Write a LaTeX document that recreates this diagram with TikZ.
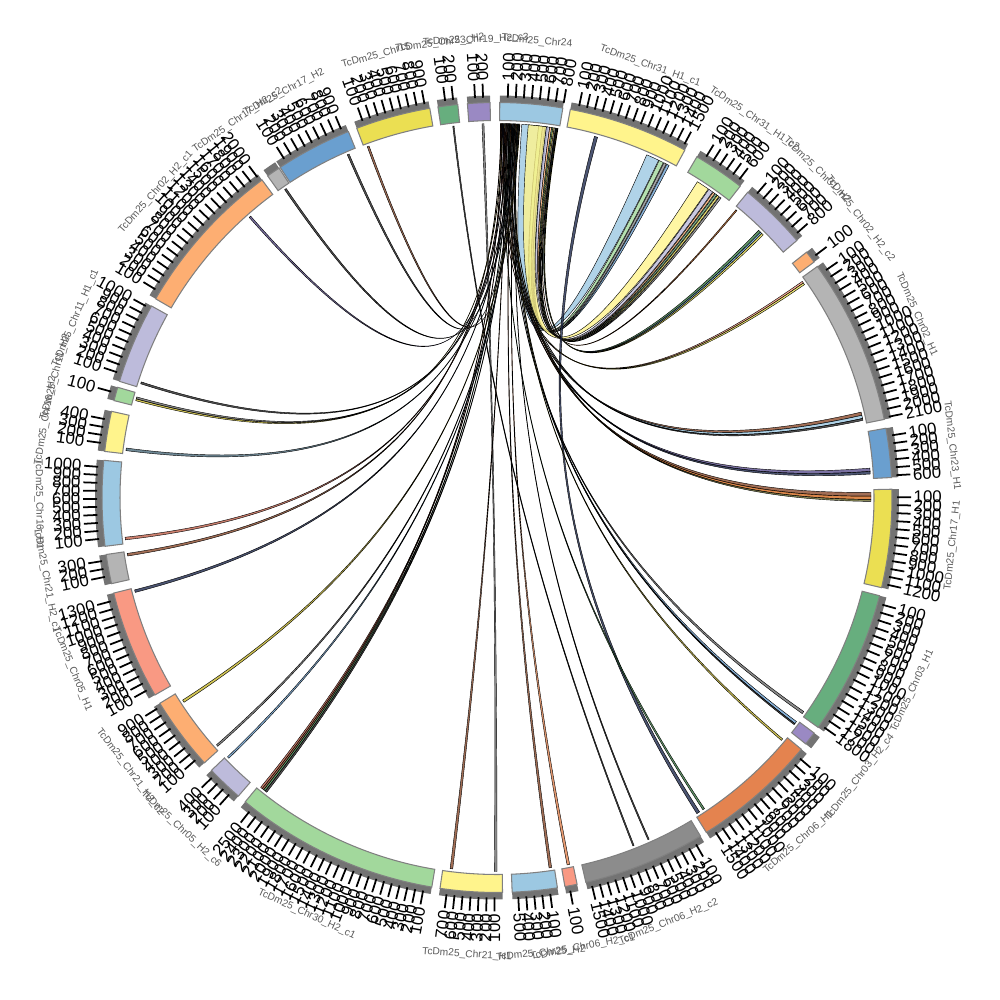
\documentclass[tikz,border=0pt]{standalone}
\usepackage{fontspec}
\setmainfont{Liberation Sans}
\usetikzlibrary{calc}

\definecolor{segblue}{HTML}{9CC8E2}
\definecolor{segyel}{HTML}{FFF48C}
\definecolor{seggrn}{HTML}{A2D89C}
\definecolor{seglav}{HTML}{BDBBDB}
\definecolor{segora}{HTML}{FDAE72}
\definecolor{seggry}{HTML}{B4B4B4}
\definecolor{segstb}{HTML}{6A9FCF}
\definecolor{segylw}{HTML}{EBDF52}
\definecolor{segdgn}{HTML}{67AE7E}
\definecolor{segpur}{HTML}{9A89C3}
\definecolor{segdor}{HTML}{E4834F}
\definecolor{segdgy}{HTML}{8C8C8C}
\definecolor{segsal}{HTML}{F99983}
\definecolor{lnkbrn}{HTML}{8B4A2B}
\definecolor{lnkred}{HTML}{C0604A}
\definecolor{lnkorg}{HTML}{D2691E}
\definecolor{lnkyel}{HTML}{C8B82A}
\definecolor{lnkolv}{HTML}{6B6B2F}
\definecolor{lnkgrn}{HTML}{3A7D44}
\definecolor{lnknavy}{HTML}{1F2A4F}
\definecolor{lnkslate}{HTML}{4A6A7A}
\definecolor{lnkpur}{HTML}{5A4E8C}
\definecolor{lnkgry}{HTML}{6E6E6E}
\definecolor{lnkdark}{HTML}{2A2A2A}

\def\rin{3.77}
\def\rout{3.95}
\def\rband{4.02}
\def\rlink{3.74}
\def\rctrl{1.1}

\tikzset{
  seg/.style={draw=black!50, line width=0.3pt},
  band/.style={fill=black!55},
  tick/.style={line width=0.5pt},
  ticklabel/.style={font=\fontsize{4.8}{5}\selectfont, inner sep=0pt},
  chrname/.style={font=\fontsize{2.9}{3}\selectfont, text=black!65, inner sep=0pt},
  link/.style={draw=black, line width=0.12pt, fill opacity=0.8},
}

\newcommand{\chord}[5]{%
  \filldraw[link, fill=#5] (#1:\rlink) arc[start angle=#1, end angle=#2, radius=\rlink]
    .. controls (#2:\rctrl) and (#3:\rctrl) .. (#3:\rlink)
    arc[start angle=#3, end angle=#4, radius=\rlink]
    .. controls (#4:\rctrl) and (#1:\rctrl) .. cycle;}

\begin{document}
\begin{tikzpicture}
\useasboundingbox (-4.97,-5.025) rectangle (5.03,4.975);

% ribbons near the top
\foreach \a/\b/\c/\d/\col in {
  86.2/83.6/66.4/64.4/segblue, 83.6/83.0/64.3/63.6/seggrn,
  83.0/82.6/63.5/63.1/segdgy, 82.6/82.2/63.0/62.6/segstb,
  85.2/82.4/57.6/55.6/segyel, 82.4/81.9/55.5/54.8/seglav,
  81.9/81.6/54.7/54.4/segora, 81.6/81.4/54.3/54.0/segdgn,
  81.4/81.2/53.9/53.6/segylw, 81.2/81.0/53.5/53.2/segdgy,
  81.0/80.9/50.3/50.1/lnkorg, 80.9/80.8/45.6/45.2/lnkgrn,
  80.8/80.7/45.2/44.9/segstb, 80.7/80.6/44.9/44.6/segylw,
  74.9/74.4/-57.2/-57.7/lnknavy,
  96.8/96.6/-68.5/-68.7/lnkdark, 92.3/92.0/-90.0/-90.4/lnkgry}
  {\chord{\a}{\b}{\c}{\d}{\col}}

% thin links from Chr24
\foreach \c/\d/\col [count=\j] in {
  35.3/35.0/segsal, -171.0/-171.4/lnkbrn, 13.2/12.7/lnkbrn,
  -128.6/-128.9/lnkbrn, 165.0/164.7/lnkyel, 4.5/4.0/lnkpur,
  -56.3/-56.6/lnkgrn, 131.5/131.2/lnkpur, 35.0/34.7/segylw,
  -173.5/-173.9/lnkred, 12.7/12.2/segblue, -128.9/-129.2/lnkred,
  0.8/0.2/lnkbrn, -96.8/-97.2/lnkbrn, 164.7/164.4/lnkgry,
  4.0/3.6/lnknavy, -34.9/-35.3/lnkgry, 124.6/124.3/lnkdark,
  12.2/11.9/lnkdark, -128.3/-128.6/lnkgrn, 0.2/-0.3/lnkorg,
  -81.6/-82.0/lnkbrn, 162.3/162.0/lnkdark, -36.8/-37.2/segstb,
  -165.3/-165.7/lnknavy, -0.3/-0.6/lnkolv, 113.6/113.3/lnkdark,
  -128.0/-128.3/lnkdark, -37.2/-37.4/lnkdark, -78.8/-79.2/segdor,
  172.8/172.4/lnkslate, -40.2/-40.5/lnkyel, 110.3/110.0/lnkbrn,
  -66.0/-66.2/lnkdark, -135.8/-136.1/segstb, -138.3/-138.6/lnkgry,
  -146.8/-147.2/lnkyel}
{
  \pgfmathsetmacro\a{89.5-0.082*(\j-1)}
  \pgfmathsetmacro\b{\a-0.07}
  \chord{\a}{\b}{\c}{\d}{\col}
}

% chromosomes, ticks and names
\foreach \s/\e/\col/\nt/\nm [count=\i] in {
  89.6/80.4/segblue/8/TcDm25\_Chr24,
  79.3/61.6/segyel/15/TcDm25\_Chr31\_H1\_c1,
  59.6/52.0/seggrn/6/TcDm25\_Chr31\_H1\_c2,
  50.6/40.6/seglav/8/TcDm25\_Chr31\_H2,
  38.4/36.6/segora/1/TcDm25\_Chr02\_H2\_c2,
  35.8/11.4/seggry/21/TcDm25\_Chr02\_H1,
  10.1/2.9/segstb/6/TcDm25\_Chr23\_H1,
  1.2/-13.2/segylw/12/TcDm25\_Chr17\_H1,
  -14.4/-35.6/segdgn/18/TcDm25\_Chr03\_H1,
  -36.6/-38.6/segpur/0/TcDm25\_Chr03\_H2\_c4,
  -39.6/-58.0/segdor/15/TcDm25\_Chr06\_H1,
  -59.0/-77.0/segdgy/15/TcDm25\_Chr06\_H2\_c2,
  -78.3/-80.1/segsal/1/TcDm25\_Chr06\_H2\_c1,
  -81.2/-87.8/segblue/5/TcDm25\_Chr25\_H2,
  -89.2/-98.3/segyel/7/TcDm25\_Chr21\_H1,
  -99.5/-129.6/seggrn/25/TcDm25\_Chr30\_H2\_c1,
  -130.9/-136.3/seglav/4/TcDm25\_Chr05\_H2\_c6,
  -137.8/-148.6/segora/9/TcDm25\_Chr21\_H2\_c2,
  -150.0/-166.0/segsal/13/TcDm25\_Chr05\_H1,
  -167.4/-171.7/seggry/3/TcDm25\_Chr21\_H2\_c1,
  -172.9/-185.4/segblue/10/TcDm25\_Chr16\_H1,
  -186.7/-192.6/segyel/4/TcDm25\_Chr16\_H2,
  -194.2/-196.2/seggrn/1/TcDm25\_Chr11\_H2,
  -197.1/-209.0/seglav/10/TcDm25\_Chr11\_H1\_c1,
  -210.2/-233.5/segora/20/TcDm25\_Chr02\_H2\_c1,
  -234.5/-236.5/seggry/0/TcDm25\_Chr17\_H2\_c2,
  -236.7/-247.9/segstb/9/TcDm25\_Chr17\_H2,
  -249.2/-260.2/segylw/9/TcDm25\_Chr15,
  -261.4/-264.3/segdgn/2/TcDm25\_Chr23\_H2,
  -265.7/-269.0/segpur/2/TcDm25\_Chr19\_H2\_c3}
{
  \fill[band] (\s:\rout) arc[start angle=\s, end angle=\e, radius=\rout]
    -- (\e:\rband) arc[start angle=\e, end angle=\s, radius=\rband] -- cycle;
  \filldraw[seg, fill=\col] (\s:\rin) arc[start angle=\s, end angle=\e, radius=\rin]
    -- (\e:\rout) arc[start angle=\e, end angle=\s, radius=\rout] -- cycle;
  \ifnum\nt>0
  \foreach \k in {1,...,\nt} {
    \pgfmathsetmacro\ta{\s-1.15*\k}
    \pgfmathtruncatemacro\v{100*\k}
    \pgfmathtruncatemacro\lft{cos(\ta)<0}
    \draw[tick] (\ta:4.0) -- (\ta:4.14);
    \ifnum\lft=1
      \node[ticklabel, anchor=east, rotate=\ta+180] (t\i-\k) at (\ta:4.16) {\v};
    \else
      \node[ticklabel, anchor=west, rotate=\ta] (t\i-\k) at (\ta:4.16) {\v};
    \fi
  }
  \fi
  \pgfmathsetmacro\ma{(\s+\e)/2}
  \pgfmathsetmacro\rot{ifthenelse(sin(\ma)>0, \ma-90, \ma+90)}
  \node[chrname, rotate=\rot] (nm\i) at (\ma:4.58) {\nm};
}
\end{tikzpicture}
\end{document}
